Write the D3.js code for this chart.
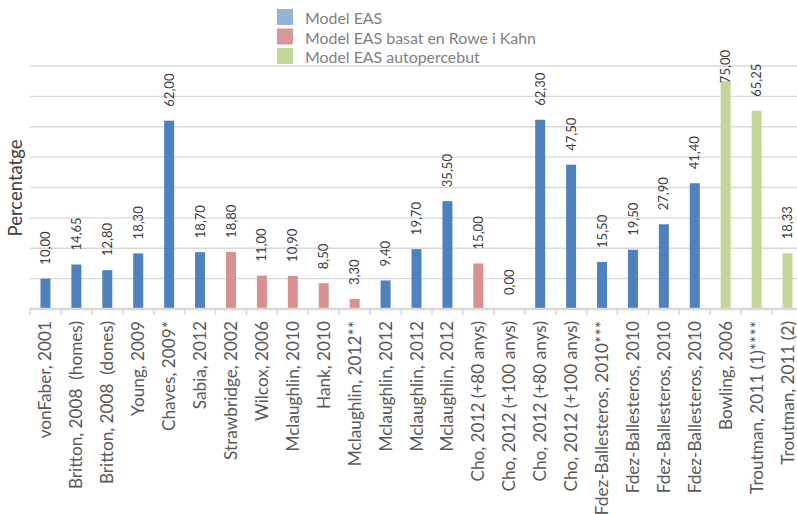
<!DOCTYPE html>
<html>
<head>
<meta charset="utf-8">
<script src="https://cdn.jsdelivr.net/npm/d3@7"></script>
<style>
  html, body { margin: 0; padding: 0; background: #fff; }
  svg { display: block; }
  text { font-family: Lato, "Open Sans", sans-serif; white-space: pre; }
</style>
</head>
<body>
<svg id="chart" width="797" height="514"></svg>
<script>
// Study labels (x axis), in display order
const categories = [
  "vonFaber, 2001",
  "Britton, 2008  (homes)",
  "Britton, 2008  (dones)",
  "Young, 2009",
  "Chaves, 2009*",
  "Sabia, 2012",
  "Strawbridge, 2002",
  "Wilcox, 2006",
  "Mclaughlin, 2010",
  "Hank, 2010",
  "Mclaughlin, 2012**",
  "Mclaughlin, 2012",
  "Mclaughlin, 2012",
  "Mclaughlin, 2012",
  "Cho, 2012 (+80 anys)",
  "Cho, 2012 (+100 anys)",
  "Cho, 2012 (+80 anys)",
  "Cho, 2012 (+100 anys)",
  "Fdez-Ballesteros, 2010***",
  "Fdez-Ballesteros, 2010",
  "Fdez-Ballesteros, 2010",
  "Fdez-Ballesteros, 2010",
  "Bowling, 2006",
  "Troutman, 2011 (1)****",
  "Troutman, 2011 (2)"
];

// Percentage for each study
const values = [
  10.00, 14.65, 12.80, 18.30, 62.00, 18.70, 18.80, 11.00, 10.90, 8.50,
  3.30, 9.40, 19.70, 35.50, 15.00, 0.00, 62.30, 47.50, 15.50, 19.50,
  27.90, 41.40, 75.00, 65.25, 18.33
];

// Model (series) each study belongs to: 0, 1 or 2
const models = [
  0, 0, 0, 0, 0, 0, 1, 1, 1, 1,
  1, 0, 0, 0, 1, 1, 0, 0, 0, 0,
  0, 0, 2, 2, 2
];

// Series names for the legend
const seriesNames = [
  "Model EAS",
  "Model EAS basat en Rowe i Kahn",
  "Model EAS autopercebut"
];

// Gridline values on the y axis
const yTicks = [10, 20, 30, 40, 50, 60, 70, 80];

const barColors = ["#4F81BD", "#D7928F", "#C3D69B"];
const legendColors = ["#95B3D7", "#D99694", "#C3D69B"];

const W = 797, H = 514;
const svg = d3.select("#chart");

const left = 30, bandW = 30.92;
const x = d3.scaleBand()
  .domain(d3.range(categories.length))
  .range([left, left + bandW * categories.length])
  .padding(0);

const y = d3.scaleLinear().domain([0, 80]).range([309, 66]);

const fmt = d3.formatLocale({ decimal: ",", thousands: ".", grouping: [3], currency: ["", "€"] }).format(".2f");

// Gridlines
svg.append("g")
  .selectAll("line")
  .data(yTicks)
  .join("line")
  .attr("x1", left).attr("x2", W)
  .attr("y1", d => y(d)).attr("y2", d => y(d))
  .attr("stroke", "#D9D9D9")
  .attr("stroke-width", 1.4);

// Legend
const legend = svg.append("g").attr("transform", "translate(277,9)");
seriesNames.forEach((name, i) => {
  const row = legend.append("g").attr("transform", `translate(0,${i * 19.5})`);
  row.append("rect")
    .attr("width", 16).attr("height", 16)
    .attr("fill", legendColors[i]);
  row.append("text")
    .attr("x", 28).attr("y", 15)
    .attr("font-size", 15.9)
    .attr("fill", "#7F7F7F")
    .text(name);
});

// Bars
svg.append("g")
  .selectAll("rect")
  .data(values)
  .join("rect")
  .attr("x", (d, i) => x(i) + (x.bandwidth() - 10) / 2)
  .attr("width", 10)
  .attr("y", d => y(d))
  .attr("height", d => y(0) - y(d))
  .attr("fill", (d, i) => barColors[models[i]]);

// Category axis: baseline and tick marks at band edges
const axis = svg.append("g");
axis.append("line")
  .attr("x1", left).attr("x2", W)
  .attr("y1", y(0)).attr("y2", y(0))
  .attr("stroke", "#D9D9D9")
  .attr("stroke-width", 2.5);
axis.selectAll("line.tick")
  .data(d3.range(categories.length + 1))
  .join("line")
  .attr("class", "tick")
  .attr("x1", i => left + i * x.bandwidth())
  .attr("x2", i => left + i * x.bandwidth())
  .attr("y1", y(0)).attr("y2", y(0) + 6)
  .attr("stroke", "#D9D9D9")
  .attr("stroke-width", 1.5);

// Category labels, rotated
svg.append("g")
  .selectAll("text")
  .data(categories)
  .join("text")
  .attr("transform", (d, i) => `translate(${x(i) + x.bandwidth() / 2},321) rotate(-90)`)
  .attr("text-anchor", "end")
  .attr("dy", "0.35em")
  .attr("font-size", 17.2)
  .attr("fill", "#595959")
  .text(d => d);

// Value labels, rotated above each bar
const plotTop = 50;
const vLabels = svg.append("g")
  .selectAll("text")
  .data(values)
  .join("text")
  .attr("text-anchor", "start")
  .attr("dy", "0.35em")
  .attr("font-size", 13)
  .attr("fill", "#404040")
  .text(d => fmt(d));
vLabels.attr("transform", function (d, i) {
  const len = this.getComputedTextLength();
  const end = Math.max(y(d) - 14, plotTop + len);
  return `translate(${x(i) + x.bandwidth() / 2},${end}) rotate(-90)`;
});

// Y axis title
svg.append("text")
  .attr("transform", "translate(22,188) rotate(-90)")
  .attr("text-anchor", "middle")
  .attr("font-size", 18.5)
  .attr("fill", "#404040")
  .text("Percentatge");
</script>
</body>
</html>
